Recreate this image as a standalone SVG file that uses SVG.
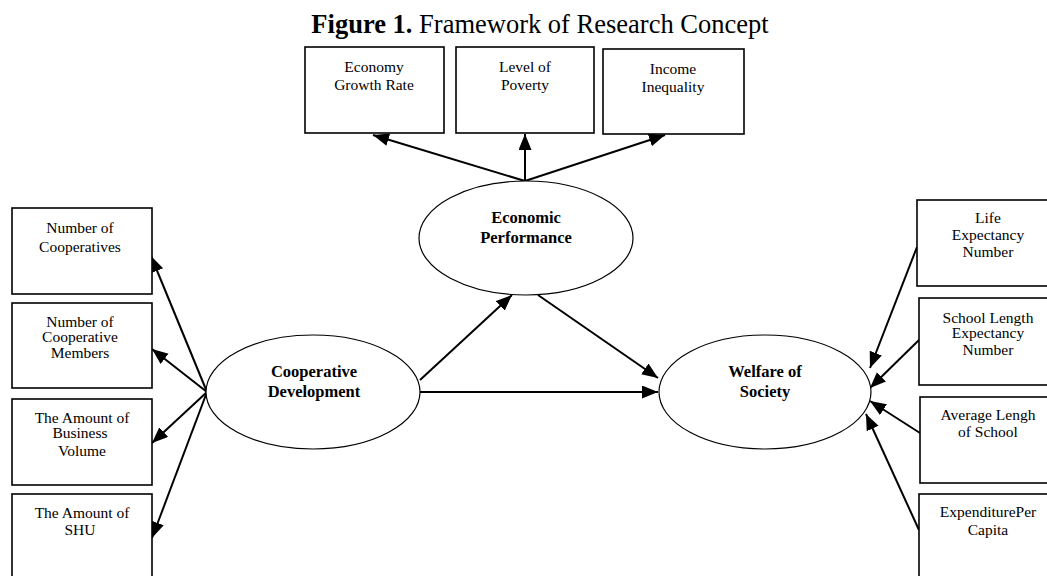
<svg xmlns="http://www.w3.org/2000/svg" width="1047" height="576" viewBox="0 0 1047 576">
<style>
.box{fill:#fff;stroke:#000;stroke-width:1.6}
.ell{fill:#fff;stroke:#000;stroke-width:1.2}
.t{font-family:"Liberation Serif","Times New Roman",serif;font-size:15.5px;text-anchor:middle;fill:#000}
.b{font-weight:bold;font-size:16.5px}
.c{stroke:#000;stroke-width:2;fill:none;marker-end:url(#ah)}
</style>
<defs>
<marker id="ah" markerUnits="userSpaceOnUse" markerWidth="18" markerHeight="14" refX="16" refY="6.5" orient="auto">
<path d="M0,0 L16,6.5 L0,13 z" fill="#000"/>
</marker>
</defs>
<rect width="1047" height="576" fill="#fff"/>
<text x="540" y="33" style="font-family:'Liberation Serif','Times New Roman',serif;font-size:26.5px;text-anchor:middle"><tspan font-weight="bold">Figure 1.</tspan> Framework of Research Concept</text>

<g id="connectors">
<line class="c" x1="525" y1="181" x2="373" y2="135"/>
<line class="c" x1="525" y1="181" x2="525" y2="134"/>
<line class="c" x1="525" y1="181" x2="665" y2="135"/>
<line class="c" x1="207" y1="392" x2="151" y2="256"/>
<line class="c" x1="207" y1="392" x2="152" y2="349"/>
<line class="c" x1="207" y1="392" x2="152" y2="443"/>
<line class="c" x1="207" y1="392" x2="152" y2="538"/>
<line class="c" x1="420" y1="380" x2="512" y2="295"/>
<line class="c" x1="538" y1="295" x2="658" y2="378"/>
<line class="c" x1="420" y1="392" x2="658" y2="392"/>
<line class="c" x1="917" y1="247" x2="870" y2="368"/>
<line class="c" x1="919" y1="340" x2="870" y2="388"/>
<line class="c" x1="920" y1="433" x2="870" y2="401"/>
<line class="c" x1="919" y1="530" x2="866" y2="414"/>
</g>

<g id="n-growth"><rect class="box" x="305" y="47" width="139" height="86"/>
<text class="t" x="374" y="72">Economy</text><text class="t" x="374" y="90">Growth Rate</text></g>
<g id="n-poverty"><rect class="box" x="456" y="47" width="138" height="86"/>
<text class="t" x="525" y="72">Level of</text><text class="t" x="525" y="90">Poverty</text></g>
<g id="n-inequality"><rect class="box" x="603" y="49" width="141" height="85"/>
<text class="t" x="673" y="74">Income</text><text class="t" x="673" y="92">Inequality</text></g>

<g id="n-econ"><ellipse class="ell" cx="526" cy="238" rx="107" ry="57"/>
<text class="t b" x="526" y="223">Economic</text><text class="t b" x="526" y="243">Performance</text></g>
<g id="n-coop"><ellipse class="ell" cx="313" cy="392" rx="107" ry="57"/>
<text class="t b" x="314" y="377">Cooperative</text><text class="t b" x="314" y="397">Development</text></g>
<g id="n-welfare"><ellipse class="ell" cx="765" cy="392" rx="106" ry="57"/>
<text class="t b" x="765" y="377">Welfare of</text><text class="t b" x="765" y="397">Society</text></g>

<g id="n-numcoop"><rect class="box" x="12" y="208" width="140" height="86"/>
<text class="t" x="80" y="233">Number of</text><text class="t" x="80" y="252">Cooperatives</text></g>
<g id="n-members"><rect class="box" x="12" y="303" width="140" height="85"/>
<text class="t" x="80" y="327">Number of</text><text class="t" x="80" y="342">Cooperative</text><text class="t" x="80" y="358">Members</text></g>
<g id="n-volume"><rect class="box" x="12" y="399" width="140" height="86"/>
<text class="t" x="82" y="423">The Amount of</text><text class="t" x="80" y="438">Business</text><text class="t" x="82" y="456">Volume</text></g>
<g id="n-shu"><rect class="box" x="12" y="494" width="140" height="100"/>
<text class="t" x="82" y="518">The Amount of</text><text class="t" x="80" y="535">SHU</text></g>

<g id="n-life"><rect class="box" x="917" y="200" width="140" height="86"/>
<text class="t" x="988" y="223">Life</text><text class="t" x="988" y="240">Expectancy</text><text class="t" x="988" y="257">Number</text></g>
<g id="n-school"><rect class="box" x="919" y="298" width="140" height="87"/>
<text class="t" x="988" y="323">School Length</text><text class="t" x="988" y="338">Expectancy</text><text class="t" x="988" y="355">Number</text></g>
<g id="n-avg"><rect class="box" x="920" y="397" width="140" height="86"/>
<text class="t" x="988" y="420">Average Lengh</text><text class="t" x="988" y="437">of School</text></g>
<g id="n-exp"><rect class="box" x="919" y="494" width="140" height="100"/>
<text class="t" x="988" y="517">ExpenditurePer</text><text class="t" x="988" y="535">Capita</text></g>
</svg>
